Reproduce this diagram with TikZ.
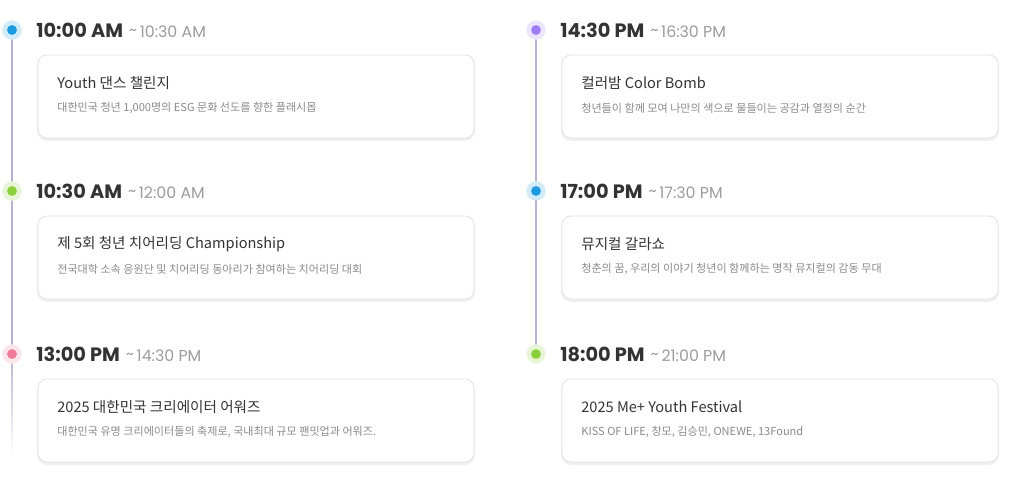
\documentclass[tikz,border=0pt]{standalone}
\usepackage{fontspec}
\setmainfont{Noto Sans CJK KR}
\newfontfamily\timefont{Poppins}
\usetikzlibrary{positioning,calc}
\definecolor{dotblue}{HTML}{1E9BE0}
\definecolor{dotgreen}{HTML}{8CCF3C}
\definecolor{dotpink}{HTML}{F07A9A}
\definecolor{dotpurple}{HTML}{A07CF5}
\definecolor{linegray}{HTML}{B4B4D2}
\definecolor{cardedge}{HTML}{E4E4E8}
\definecolor{texttitle}{HTML}{333333}
\definecolor{textsub}{HTML}{8A8A8A}

\begin{document}
\begin{tikzpicture}[x=0.02cm,y=-0.02cm,
    dot/.style={circle,fill=#1,minimum size=5.6pt,inner sep=0pt},
    halo/.style={circle,fill=#1!20,minimum size=11pt,inner sep=0pt},
    card/.style={draw=cardedge,fill=white,rounded corners=5pt,line width=0.5pt},
    timebig/.style={anchor=west,inner sep=0pt,font=\timefont\bfseries\fontsize{11}{13}\selectfont,text=texttitle},
    timesmall/.style={anchor=base west,inner sep=0pt,font=\timefont\fontsize{9}{11}\selectfont,text=textsub!85},
    cardtitle/.style={anchor=west,inner sep=0pt,font=\fontsize{8.3}{10}\selectfont,text=texttitle},
    cardsub/.style={anchor=west,inner sep=0pt,font=\fontsize{6.3}{8}\selectfont,text=textsub}
  ]
  \useasboundingbox (0,0) rectangle (1024,489);

  % the timeline lines
  \draw[linegray,line width=0.6pt] (12,30) -- (12,354);
  \shade[top color=linegray,bottom color=white] (11.7,354) rectangle (12.3,455);
  \draw[linegray,line width=0.6pt] (536,30) -- (536,354);

  % the entries
  \foreach \n/\x/\y/\c/\ta/\tb/\ha/\hb in {
      a/12/30/dotblue/10:00 AM/10:30 AM/Youth 댄스 챌린지/{대한민국 청년 1,000명의 ESG 문화 선도를 향한 플래시몹},
      b/12/191/dotgreen/10:30 AM/12:00 AM/제 5회 청년 치어리딩 Championship/전국대학 소속 응원단 및 치어리딩 동아리가 참여하는 치어리딩 대회,
      c/12/354/dotpink/13:00 PM/14:30 PM/2025 대한민국 크리에이터 어워즈/{대한민국 유명 크리에이터들의 축제로, 국내최대 규모 팬밋업과 어워즈.},
      d/536/30/dotpurple/14:30 PM/16:30 PM/컬러밤 Color Bomb/청년들이 함께 모여 나만의 색으로 물들이는 공감과 열정의 순간,
      e/536/191/dotblue/17:00 PM/17:30 PM/뮤지컬 갈라쇼/{청춘의 꿈, 우리의 이야기 청년이 함께하는 명작 뮤지컬의 감동 무대},
      f/536/354/dotgreen/18:00 PM/21:00 PM/2025 Me+ Youth Festival/{KISS OF LIFE, 창모, 김승민, ONEWE, 13Found}} {
    \node[halo=\c] (h\n) at (\x,\y) {};
    \node[dot=\c] (d\n) at (\x,\y) {};
    \node[timebig] (t\n) at (\x+24,\y) {\ta};
    \node[timesmall,right=3pt of t\n.base east,anchor=base west] (s\n) {\raisebox{1pt}{\textasciitilde}\,\tb};
    \fill[black!6,rounded corners=6pt] (\x+25,\y+26) rectangle (\x+463,\y+111);
    \draw[card] (\x+26,\y+25) rectangle (\x+462,\y+108);
    \node[cardtitle] (c\n) at (\x+45,\y+53) {\ha};
    \node[cardsub] (p\n) at (\x+45,\y+78) {\hb};
  }
\end{tikzpicture}
\end{document}
